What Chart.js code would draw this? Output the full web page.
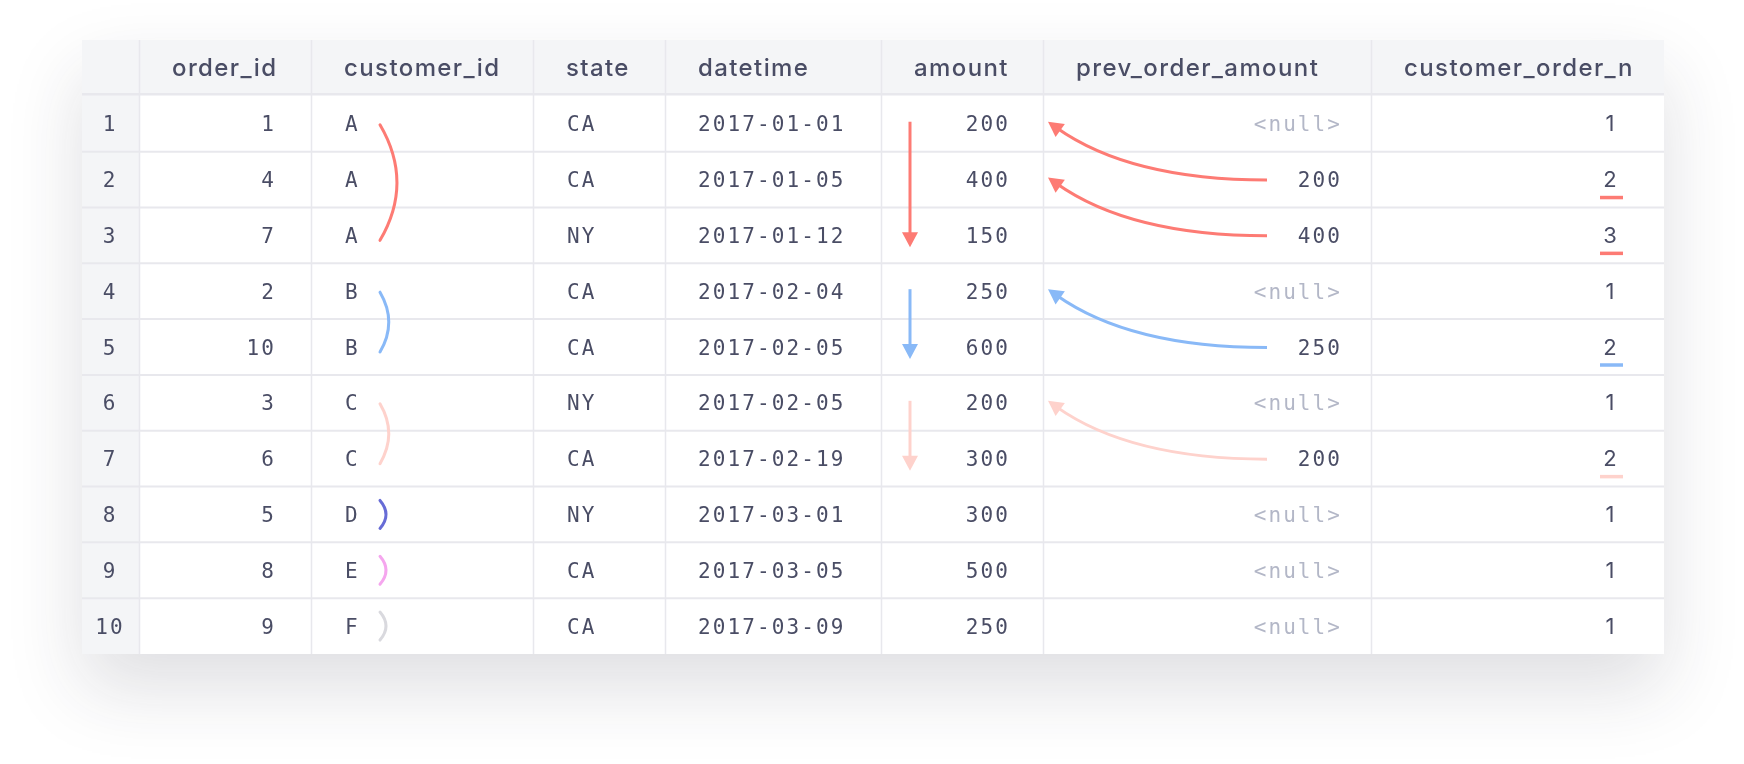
<!DOCTYPE html>
<html>
<head>
<meta charset="utf-8">
<script src="https://cdn.jsdelivr.net/npm/chart.js@4.4.1/dist/chart.umd.min.js"></script>
<style>
  html, body { margin: 0; padding: 0; background: #ffffff; }
  #wrap { width: 1744px; height: 764px; position: relative; }
</style>
</head>
<body>
<div id="wrap"><canvas id="bestellungen"></canvas></div>
<script>
// DATEN
const columns = ['order_id', 'customer_id', 'state', 'datetime', 'amount', 'prev_order_amount', 'customer_order_n'];
const rowNumbers = [1, 2, 3, 4, 5, 6, 7, 8, 9, 10];
const orderIds = [1, 4, 7, 2, 10, 3, 6, 5, 8, 9];
const customerIds = ['A', 'A', 'A', 'B', 'B', 'C', 'C', 'D', 'E', 'F'];
const states = ['CA', 'CA', 'NY', 'CA', 'CA', 'NY', 'CA', 'NY', 'CA', 'CA'];
const datetimes = ['2017-01-01', '2017-01-05', '2017-01-12', '2017-02-04', '2017-02-05',
                   '2017-02-05', '2017-02-19', '2017-03-01', '2017-03-05', '2017-03-09'];
const amounts = [200, 400, 150, 250, 600, 200, 300, 300, 500, 250];
const prevOrderAmounts = [null, 200, 400, null, 250, null, 200, null, null, null];
const customerOrderN = [1, 2, 3, 1, 2, 1, 2, 1, 1, 1];
const customerColors = { A: '#fd7b74', B: '#89b9f7', C: '#fed2cc', D: '#676cd6', E: '#f5a6ee', F: '#d9d9de' };

// LAYOUT (Tabellen-Einheiten = Pixel ab linkem Tabellenrand)
const colEdges = [0, 57, 229, 451, 583, 799, 961, 1289, 1582];
const TEXT = '#4a4d65';
const NULLTEXT = '#b3b7c7';
const GRID = '#e8e8ed';
const HEADBG = '#f4f5f7';
const MONO = '"DejaVu Sans Mono", monospace';
const SANS = 'Inter, Lato, sans-serif';

// Spalten: Wert-Array, Ankerpunkt, Ausrichtung, Schrift
const cellColumns = [
    { values: rowNumbers, x: 27, align: 'center', font: MONO },
    { values: orderIds, x: 192, align: 'right', font: MONO },
    { values: customerIds, x: 263, align: 'left', font: MONO },
    { values: states, x: 485, align: 'left', font: MONO },
    { values: datetimes, x: 616, align: 'left', font: MONO },
    { values: amounts, x: 926, align: 'right', font: MONO },
    { values: prevOrderAmounts, x: 1258, align: 'right', font: MONO },
    { values: customerOrderN, x: 1528, align: 'center', font: SANS }
];

function rowValue(i) { return i + 1.5; }

// Gruppen von Kunden fuer Boegen und Pfeile
function customerGroups() {
    const groups = [];
    customerIds.forEach((c, i) => {
        const last = groups[groups.length - 1];
        if (last && last.id === c) { last.end = i; } else { groups.push({ id: c, start: i, end: i }); }
    });
    return groups;
}

function drawHead(ctx, tipX, tipY, angle, color) {
    ctx.save();
    ctx.translate(tipX, tipY);
    ctx.rotate(angle);
    ctx.fillStyle = color;
    ctx.beginPath();
    ctx.moveTo(0, 0);
    ctx.lineTo(-15, -8);
    ctx.lineTo(-15, 8);
    ctx.closePath();
    ctx.fill();
    ctx.restore();
}

function fillText(ctx, text, x, y, align) {
    // Bei letterSpacing rechtsbuendig den Nachlauf ausgleichen
    const w = ctx.measureText(text).width;
    let left = x;
    const spacing = parseFloat(ctx.letterSpacing) || 0;
    const inner = w - spacing;
    if (align === 'right') left = x - inner;
    if (align === 'center') left = x - inner / 2;
    ctx.textAlign = 'left';
    ctx.fillText(text, left, y);
}

const tablePlugin = {
    id: 'tablePlugin',
    beforeDatasetsDraw(chart) {
        const ctx = chart.ctx;
        const xs = chart.scales.x, ys = chart.scales.y;
        const left = xs.getPixelForValue(0), right = xs.getPixelForValue(1582);
        const top = ys.getPixelForValue(0), bottom = ys.getPixelForValue(11);
        const headBottom = ys.getPixelForValue(0.97);
        ctx.save();
        // Schatten
        ctx.shadowColor = 'rgba(40, 40, 60, 0.15)';
        ctx.shadowBlur = 70;
        ctx.shadowOffsetY = 34;
        ctx.fillStyle = '#ffffff';
        ctx.fillRect(left, top, right - left, bottom - top);
        ctx.restore();
        ctx.save();
        ctx.fillStyle = '#ffffff';
        ctx.fillRect(left, top, right - left, bottom - top);
        ctx.fillStyle = HEADBG;
        ctx.fillRect(left, top, right - left, headBottom - top);
        ctx.fillRect(left, top, xs.getPixelForValue(colEdges[1]) - left, bottom - top);
        // Linien
        ctx.strokeStyle = GRID;
        ctx.lineWidth = 1.5;
        colEdges.slice(1, -1).forEach(e => {
            const px = Math.round(xs.getPixelForValue(e)) + 0.5;
            ctx.beginPath(); ctx.moveTo(px, top); ctx.lineTo(px, bottom); ctx.stroke();
        });
        ctx.lineWidth = 2.5;
        ctx.beginPath(); ctx.moveTo(left, headBottom); ctx.lineTo(right, headBottom); ctx.stroke();
        ctx.lineWidth = 2;
        for (let r = 1; r < rowNumbers.length; r++) {
            const py = ys.getPixelForValue(r + 1);
            ctx.beginPath(); ctx.moveTo(left, py); ctx.lineTo(right, py); ctx.stroke();
        }
        // Kopfzeile
        ctx.fillStyle = TEXT;
        ctx.font = '500 24px ' + SANS;
        ctx.letterSpacing = '1.4px';
        ctx.textBaseline = 'alphabetic';
        const hy = (top + headBottom) / 2 + 9;
        columns.forEach((c, i) => {
            fillText(ctx, c, xs.getPixelForValue(colEdges[i + 1] + 33), hy, 'left');
        });
        ctx.restore();
    },
    afterDatasetsDraw(chart) {
        const ctx = chart.ctx;
        const xs = chart.scales.x, ys = chart.scales.y;
        ctx.save();
        ctx.textBaseline = 'alphabetic';
        cellColumns.forEach((col, d) => {
            const meta = chart.getDatasetMeta(d);
            meta.data.forEach((pt, i) => {
                const v = col.values[i];
                const isNull = v === null;
                ctx.fillStyle = isNull ? NULLTEXT : TEXT;
                if (col.font === MONO) {
                    ctx.font = '21px ' + MONO;
                    ctx.letterSpacing = '2.1px';
                } else {
                    ctx.font = '22px ' + SANS;
                    ctx.letterSpacing = '0px';
                }
                fillText(ctx, isNull ? '<null>' : String(v), pt.x, pt.y + 7.5, col.align);
            });
        });
        ctx.letterSpacing = '0px';

        const groups = customerGroups();
        ctx.lineCap = 'round';
        groups.forEach(g => {
            const color = customerColors[g.id];
            const c0 = ys.getPixelForValue(rowValue(g.start));
            const c1 = ys.getPixelForValue(rowValue(g.end));
            // Bogen neben customer_id
            const ax = xs.getPixelForValue(298);
            let y0, y1, bulge;
            if (g.start === g.end) { y0 = c0 - 14; y1 = c0 + 14; bulge = 6; }
            else { y0 = c0 + 1; y1 = c1 + 5; bulge = 17 * (y1 - y0) / 116; }
            ctx.strokeStyle = color;
            ctx.lineWidth = 3;
            ctx.beginPath();
            ctx.moveTo(ax, y0);
            ctx.quadraticCurveTo(ax + bulge * 2, (y0 + y1) / 2, ax, y1);
            ctx.stroke();
            if (g.start === g.end) return;
            // Senkrechter Pfeil bei amount
            const vx = xs.getPixelForValue(828);
            const tipY = c1 + 12;
            ctx.lineCap = 'butt';
            ctx.beginPath();
            ctx.moveTo(vx, c0 - 2);
            ctx.lineTo(vx, tipY - 10);
            ctx.stroke();
            drawHead(ctx, vx, tipY, Math.PI / 2, color);
            ctx.lineCap = 'round';
        });

        // Gebogene Pfeile prev_order_amount -> amount
        prevOrderAmounts.forEach((v, i) => {
            if (v === null) return;
            const color = customerColors[customerIds[i]];
            const sy = ys.getPixelForValue(rowValue(i)) + 0.5;
            const ty = ys.getPixelForValue(rowValue(i - 1)) - 2;
            const sx = xs.getPixelForValue(1185);
            const cx = xs.getPixelForValue(1048);
            const tx = xs.getPixelForValue(966);
            const ang = Math.atan2(ty - sy, tx - cx);
            ctx.strokeStyle = color;
            ctx.lineWidth = 3;
            ctx.lineCap = 'butt';
            ctx.beginPath();
            ctx.moveTo(sx, sy);
            ctx.quadraticCurveTo(cx, sy, tx - Math.cos(ang) * 10, ty - Math.sin(ang) * 10);
            ctx.stroke();
            drawHead(ctx, tx, ty, ang, color);
        });

        // Unterstreichung bei customer_order_n
        customerOrderN.forEach((n, i) => {
            if (n < 2) return;
            const y = ys.getPixelForValue(rowValue(i)) + 18;
            ctx.fillStyle = customerColors[customerIds[i]];
            ctx.fillRect(xs.getPixelForValue(1518), y - 1.75, 23, 3.5);
        });
        ctx.restore();
    }
};

const datasets = cellColumns.map(col => ({
    data: col.values.map((v, i) => ({ x: col.x, y: rowValue(i) })),
    pointRadius: 0,
    showLine: false
}));

new Chart(document.getElementById('bestellungen'), {
    type: 'scatter',
    data: { datasets: datasets },
    options: {
        responsive: true,
        maintainAspectRatio: false,
        animation: false,
        events: [],
        layout: { padding: { left: 82, top: 40, right: 80, bottom: 110 } },
        plugins: { legend: { display: false }, tooltip: { enabled: false } },
        scales: {
            x: { type: 'linear', min: 0, max: 1582, display: false },
            y: { type: 'linear', min: 0, max: 11, reverse: true, display: false }
        }
    },
    plugins: [tablePlugin]
});
</script>
</body>
</html>
